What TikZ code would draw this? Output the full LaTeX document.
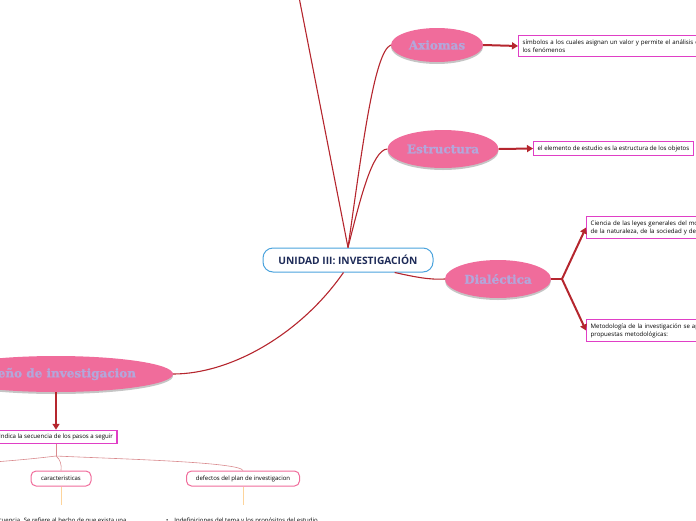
\documentclass[tikz,border=0pt]{standalone}
\usepackage{fontspec}
\setmainfont{Open Sans}
\newfontfamily\slabfont[BoldFeatures={FakeBold=1.2}]{DejaVu Serif}
\usetikzlibrary{shapes.geometric,arrows.meta,shadows}

\definecolor{topicpink}{HTML}{F06C9B}
\definecolor{topictext}{HTML}{B4A6DA}
\definecolor{boxmagenta}{HTML}{E03FC6}
\definecolor{linkred}{HTML}{B5262E}
\definecolor{centreblue}{HTML}{4BA3DD}
\definecolor{centretext}{HTML}{1E2B58}
\definecolor{thinred}{HTML}{D98A8E}
\definecolor{paleorange}{HTML}{FDD49B}

\tikzset{
  topic/.style={ellipse,fill=topicpink,text=topictext,inner sep=0pt,
    font=\slabfont\bfseries\fontsize{12}{14}\selectfont,
    drop shadow={shadow xshift=0pt,shadow yshift=-2pt,fill=black!45,opacity=.5}},
  notebox/.style={draw=boxmagenta,line width=1.4pt,fill=white,align=left,
    font=\fontsize{6.1}{8}\selectfont,inner xsep=4pt,inner ysep=4pt,anchor=west},
  subtopic/.style={draw=topicpink,line width=1pt,rounded corners=5pt,fill=white,
    font=\fontsize{6}{7}\selectfont,minimum height=15pt,inner xsep=5pt},
  leaftext/.style={font=\fontsize{6}{7}\selectfont,inner xsep=1pt,inner ysep=13pt,anchor=north west},
  mainlink/.style={draw=linkred,line width=1.1pt},
  notelink/.style={draw=linkred,line width=2pt},
  thinlink/.style={draw=thinred,line width=.6pt},
  leaflink/.style={draw=paleorange,line width=.9pt},
}

\begin{document}
\begin{tikzpicture}[x=1pt,y=-1pt]
  \useasboundingbox (0,0) rectangle (696,520);
  \clip (0,0) rectangle (696,520);

  % central topic
  \node[draw=centreblue,line width=1pt,rounded corners=10pt,fill=white,
        minimum width=170pt,minimum height=24pt,text=centretext,
        font=\bfseries\fontsize{10.2}{12}\selectfont] (centre) at (348,260) {UNIDAD III: INVESTIGACIÓN};

  % main topics
  \node[topic,minimum width=92pt,minimum height=34pt] (axiomas) at (437,45) {Axiomas};
  \node[topic,minimum width=111pt,minimum height=38pt] (estructura) at (443,149) {Estructura};
  \node[topic,minimum width=106pt,minimum height=38pt] (dialectica) at (498,279) {Dialéctica};
  \node[topic,minimum width=234pt,minimum height=36pt] (diseno) at (56,374) {Diseño de investigacion};
  \coordinate (offtop) at (298,-8);

  % links from the centre
  \draw[mainlink] (centre.north) -- (offtop);
  \draw[mainlink] (centre.north) .. controls (362,150) and (374,52) .. (axiomas.west);
  \draw[mainlink] (centre.north) .. controls (360,200) and (372,150) .. (estructura.west);
  \draw[mainlink] (centre.-15) .. controls (415,277) and (430,280) .. (dialectica.west);
  \draw[mainlink] (centre.-110) .. controls (300,335) and (230,374) .. (diseno.east);

  % notes
  \node[notebox,text width=200pt] (axnote) at (518,46)
    {símbolos a los cuales asignan un valor y permite el análisis de\\los fenómenos};
  \draw[notelink,-{Triangle[length=6pt,width=7pt]}] (axiomas.east) -- (axnote.west);

  \node[notebox] (esnote) at (533,148.5) {el elemento de estudio es la estructura de los objetos};
  \draw[notelink,-{Triangle[length=6pt,width=7pt]}] (estructura.east) -- (esnote.west);

  \coordinate (dfork) at (562,279);
  \node[notebox,text width=160pt] (dinote1) at (586,227.5)
    {Ciencia de las leyes generales del movimiento\\de la naturaleza, de la sociedad y del pensamiento};
  \node[notebox,text width=160pt] (dinote2) at (586,330.5)
    {Metodología de la investigación se apoya en las\\propuestas metodológicas:};
  \draw[notelink] (dialectica.east) -- (dfork);
  \draw[notelink,-{Triangle[length=6pt,width=7pt]}] (dfork) -- (dinote1.west);
  \draw[notelink,-{Triangle[length=6pt,width=7pt]}] (dfork) -- (dinote2.west);

  \node[notebox,anchor=center,inner ysep=3.5pt] (seqnote) at (56,437) {Indica la secuencia de los pasos a seguir};
  \draw[notelink,-{Triangle[length=6pt,width=7pt]}] (diseno.south) -- (seqnote.north);

  % sub topics under the sequence note
  \coordinate (seqfork) at (56,456);
  \coordinate (offleft) at (-6,462);
  \node[subtopic,minimum width=60pt] (caract) at (61,478.5) {caracteristicas};
  \node[subtopic,minimum width=113pt] (defect) at (243,478.5) {defectos del plan de investigacion};
  \draw[thinlink] (seqnote.south) -- (seqfork);
  \draw[thinlink] (seqfork) .. controls (40,458) and (20,460) .. (offleft);
  \draw[thinlink] (seqfork) .. controls (60,459) and (62,465) .. (caract.north);
  \draw[thinlink] (seqfork) .. controls (120,459) and (240,462) .. (defect.north);

  % leaves
  \node[leaftext] (secuencia) at (-9,505) {Secuencia. Se refiere al hecho de que exista una};
  \node[leaftext] (indef) at (165,505) {\textbullet\hspace{6pt}Indefiniciones del tema y los propósitos del estudio};
  \draw[leaflink] (caract.south) -- (caract.south |- secuencia.north);
  \draw[leaflink] (defect.south) -- (defect.south |- indef.north);
\end{tikzpicture}
\end{document}
